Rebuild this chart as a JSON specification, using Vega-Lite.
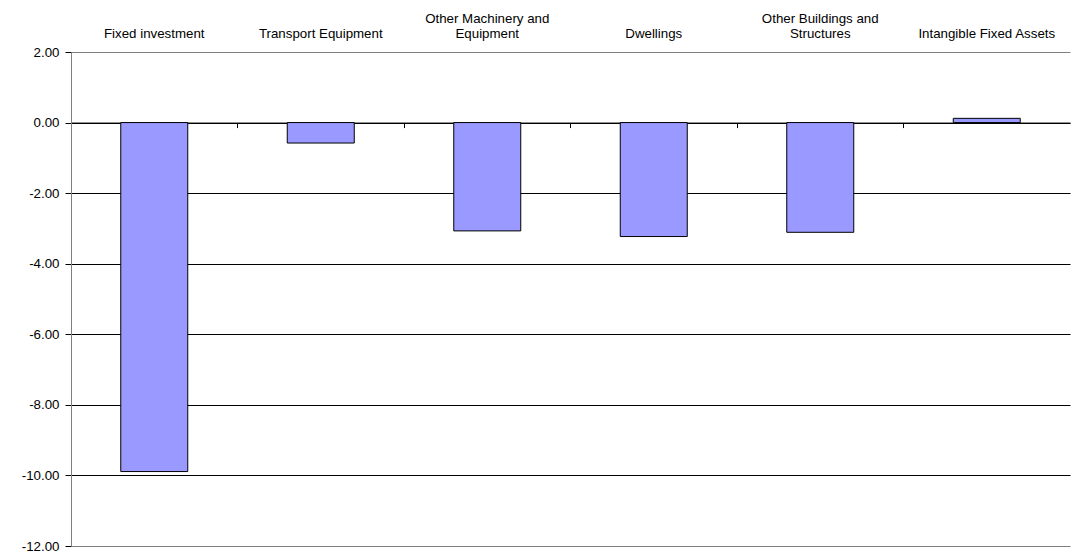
{
  "$schema": "https://vega.github.io/schema/vega-lite/v6.json",
  "width": 999,
  "height": 494,
  "autosize": {"type": "none"},
  "padding": {"left": 71, "top": 52, "right": 4, "bottom": 7},
  "background": "white",
  "config": {
    "view": {"stroke": null},
    "font": "Liberation Sans",
    "axis": {"labelFont": "Liberation Sans", "labelFontSize": 13.3, "labelColor": "#000000", "title": null}
  },
  "data": {
    "values": [
      {"category": "Fixed investment", "value": -9.89},
      {"category": "Transport Equipment", "value": -0.58},
      {"category": "Other Machinery and Equipment", "value": -3.07},
      {"category": "Dwellings", "value": -3.23},
      {"category": "Other Buildings and Structures", "value": -3.11},
      {"category": "Intangible Fixed Assets", "value": 0.12}
    ]
  },
  "layer": [
    {
      "mark": {"type": "bar", "size": 67, "color": "#9999FF", "stroke": "#000000", "strokeWidth": 1},
      "encoding": {
        "x": {
          "field": "category", "type": "nominal", "sort": null,
          "scale": {"paddingInner": 0, "paddingOuter": 0},
          "axis": {
            "orient": "top", "domain": false, "ticks": false, "grid": false,
            "labelAngle": 0, "labelPadding": 27, "labelBaseline": "bottom", "labelLineHeight": 15.5,
            "labelExpr": "datum.label == 'Other Machinery and Equipment' ? ['Other Machinery and', 'Equipment'] : datum.label == 'Other Buildings and Structures' ? ['Other Buildings and', 'Structures'] : ['', datum.label]"
          }
        },
        "y": {
          "field": "value", "type": "quantitative",
          "scale": {"domain": [-12, 2], "nice": false, "zero": false},
          "axis": {
            "values": [-12, -10, -8, -6, -4, -2, 0, 2],
            "labelExpr": "datum.value < 0 ? '-' + format(-datum.value, '.2f') : format(datum.value, '.2f')",
            "grid": true,
            "gridColor": {"condition": {"test": "datum.value == 2 || datum.value == -12", "value": "#808080"}, "value": "#000000"},
            "gridOpacity": 1,
            "gridWidth": 1,
            "domainColor": "#808080",
            "tickColor": "#000000",
            "tickSize": 6,
            "labelPadding": 6
          }
        }
      }
    },
    {
      "mark": {"type": "point", "opacity": 0},
      "encoding": {
        "x": {
          "field": "category", "type": "nominal", "sort": null,
          "axis": {
            "orient": "bottom", "offset": -423.43, "labels": false, "grid": false,
            "domain": true, "domainColor": "#000000", "ticks": true, "tickColor": "#000000",
            "tickSize": 5, "bandPosition": 0
          }
        }
      }
    }
  ],
  "resolve": {"axis": {"x": "independent", "y": "independent"}}
}
